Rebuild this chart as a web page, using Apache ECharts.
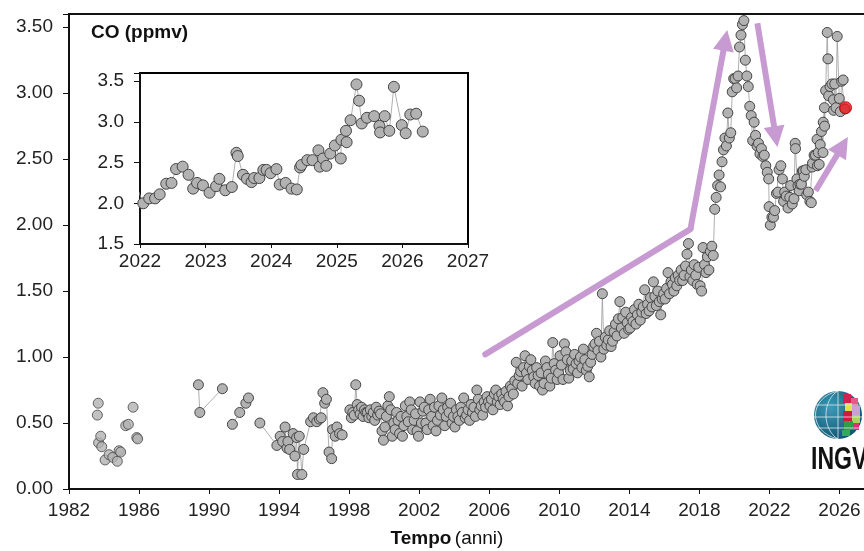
<!DOCTYPE html>
<html><head><meta charset="utf-8">
<script src="https://cdn.jsdelivr.net/npm/echarts@6/dist/echarts.min.js"></script>
<style>html,body{margin:0;padding:0;background:#fff}#c{width:864px;height:551px}</style>
</head><body><div id="c"></div>
<script>
// ---------- tick labels ----------
const mainXTicks = [1982,1986,1990,1994,1998,2002,2006,2010,2014,2018,2022,2026];
const mainYTicks = [0,0.5,1,1.5,2,2.5,3,3.5];
const insetXTicks = [2022,2023,2024,2025,2026,2027];
const insetYTicks = [1.5,2,2.5,3,3.5];

// ---------- data (year, CO ppmv) ----------
const early1983 = [[1983.62,0.56],[1983.67,0.65],[1983.69,0.35],[1983.81,0.40],[1983.87,0.32],[1984.06,0.22],[1984.29,0.26],[1984.50,0.24],[1984.76,0.21],[1984.86,0.29],[1984.95,0.28],[1985.24,0.48],[1985.39,0.49],[1985.66,0.62],[1985.87,0.39],[1985.92,0.38]];
const early1989 = [[1989.39,0.79],[1989.47,0.58],[1990.76,0.76]];
const early1991 = [[1991.33,0.49],[1991.75,0.58],[1992.10,0.65],[1992.25,0.69]];
const early1993 = [[1992.90,0.50],[1993.87,0.33],[1994.06,0.40],[1994.20,0.36],[1994.34,0.47],[1994.45,0.31],[1994.50,0.36],[1994.60,0.30],[1994.80,0.42],[1994.90,0.25],[1995.00,0.39],[1995.05,0.11],[1995.15,0.40],[1995.30,0.11],[1995.40,0.30],[1995.80,0.51],[1995.96,0.54],[1996.15,0.51],[1996.30,0.53],[1996.40,0.54],[1996.50,0.73],[1996.60,0.65],[1996.70,0.68],[1996.85,0.28],[1997.00,0.23],[1997.05,0.45],[1997.20,0.40],[1997.30,0.47],[1997.45,0.42],[1997.60,0.41]];

// monthly values, one row per year starting 1998
const monthlyStartYear = 1998;
const monthly = [
  [0.60,0.54,0.58,0.56,0.79,0.64,0.60,0.57,0.62,0.55,0.60,0.58], //1998
  [0.58,0.54,0.60,0.55,0.58,0.52,0.62,0.56,0.59,0.57,0.44,0.37], //1999
  [0.47,0.55,0.63,0.70,0.60,0.40,0.50,0.45,0.58,0.52,0.42,0.55], //2000
  [0.40,0.48,0.63,0.55,0.51,0.66,0.60,0.45,0.52,0.57,0.44,0.40], //2001
  [0.66,0.50,0.59,0.62,0.50,0.45,0.60,0.68,0.55,0.48,0.62,0.44], //2002
  [0.52,0.63,0.56,0.69,0.60,0.48,0.55,0.62,0.58,0.65,0.50,0.55], //2003
  [0.47,0.60,0.55,0.52,0.62,0.58,0.69,0.54,0.56,0.60,0.52,0.64], //2004
  [0.58,0.62,0.55,0.75,0.68,0.60,0.63,0.56,0.66,0.62,0.70,0.66], //2005
  [0.63,0.68,0.60,0.72,0.75,0.66,0.70,0.64,0.72,0.68,0.66,0.74], //2006
  [0.63,0.70,0.78,0.76,0.72,0.82,0.96,0.80,0.86,0.89,0.78,0.92], //2007
  [1.01,0.88,0.83,0.93,0.98,0.90,0.85,0.80,0.92,0.86,0.78,0.88], //2008
  [0.75,0.80,0.97,0.92,0.87,0.78,0.84,1.11,0.95,0.90,0.83,0.88], //2009
  [1.01,0.94,0.83,1.10,1.04,0.98,0.84,0.90,0.97,0.91,1.02,0.95], //2010
  [0.88,0.97,1.00,0.92,1.06,0.98,0.90,0.93,0.85,0.96,1.02,1.08], //2011
  [1.10,1.18,1.05,1.12,1.00,1.48,1.06,1.15,1.09,1.13,1.20,1.08], //2012
  [1.12,1.19,1.25,1.16,1.29,1.42,1.22,1.30,1.18,1.34,1.26,1.21], //2013
  [1.22,1.30,1.27,1.36,1.25,1.32,1.40,1.28,1.34,1.38,1.51,1.33], //2014
  [1.40,1.35,1.45,1.38,1.57,1.46,1.39,1.50,1.42,1.32,1.44,1.48], //2015
  [1.44,1.52,1.64,1.48,1.57,1.55,1.50,1.60,1.54,1.62,1.58,1.66], //2016
  [1.58,1.62,1.69,1.78,1.86,1.61,1.66,1.58,1.70,1.62,1.55,1.68], //2017
  [1.54,1.50,1.83,1.70,1.64,1.76,1.66,1.80,1.84,1.77,2.12,2.21], //2018
  [2.30,2.38,2.29,2.48,2.57,2.66,2.60,2.85,2.66,2.70,3.01,3.11], //2019
  [3.11,3.04,3.13,3.35,3.44,3.52,3.55,3.25,3.13,3.05,2.90,2.83], //2020
  [2.64,2.78,2.68,2.60,2.62,2.54,2.58,2.52,2.53,2.45,2.40,2.35]  //2021
];

const recent = [[2021.98,2.14],[2022.05,2.00],[2022.14,2.06],[2022.23,2.06],[2022.30,2.11],[2022.40,2.24],[2022.48,2.25],[2022.55,2.42],[2022.65,2.45],[2022.74,2.35],[2022.81,2.18],[2022.87,2.25],[2022.96,2.22],[2023.06,2.13],[2023.16,2.21],[2023.21,2.30],[2023.30,2.16],[2023.40,2.20],[2023.47,2.62],[2023.49,2.58],[2023.57,2.35],[2023.63,2.30],[2023.70,2.26],[2023.74,2.31],[2023.82,2.31],[2023.88,2.41],[2023.93,2.41],[2023.99,2.37],[2024.08,2.42],[2024.13,2.23],[2024.22,2.25],[2024.31,2.18],[2024.39,2.17],[2024.44,2.44],[2024.46,2.47],[2024.55,2.53],[2024.63,2.53],[2024.72,2.65],[2024.74,2.45],[2024.79,2.55],[2024.84,2.46],[2024.90,2.61],[2024.97,2.71],[2025.06,2.55],[2025.07,2.78],[2025.14,2.89],[2025.15,2.75],[2025.21,3.02],[2025.30,3.46],[2025.34,3.26],[2025.38,2.98],[2025.46,3.05],[2025.57,3.07],[2025.65,2.95],[2025.66,2.87],[2025.73,3.07],[2025.80,2.89],[2025.87,3.43],[2025.99,2.96],[2026.05,2.86],[2026.12,3.09],[2026.21,3.10],[2026.31,2.88]];

const latest = [[2026.35,2.89]];

// annotation arrows (data coordinates)
const arrowUpShaft = [[2005.77,1.02],[2017.49,1.97]];
const arrowUpHead = [[2017.49,1.97],[2019.48,3.40]];
const arrowDown = [[2021.31,3.53],[2022.36,2.67]];
const arrowRise = [[2024.63,2.26],[2026.17,2.60]];

// ---------- build ----------
const mainSeriesData = [];
monthly.forEach((row, i) => row.forEach((v, m) => mainSeriesData.push([monthlyStartYear + i + (m + 0.5) / 12, v])));
recent.forEach(p => mainSeriesData.push(p));

const FONT = 'Arial, "Liberation Sans", sans-serif';
const ptStyle = {color:'#b2b2b2', borderColor:'#454545', borderWidth:1};
const lnStyle = {color:'#9a9a9a', width:0.8};
const PURPLE = '#c79ad2';

function lineSeries(data, xi, yi, size) {
  return {type:'line', data, xAxisIndex:xi, yAxisIndex:yi, symbol:'circle', symbolSize:size || 10, showSymbol:true,
    itemStyle:ptStyle, lineStyle:lnStyle, z:3, clip:true, emphasis:{disabled:true}};
}
function fmtIn(list, dec) { return v => list.some(t => Math.abs(t - v) < 1e-9) ? (dec >= 0 ? v.toFixed(dec) : String(v)) : ''; }

const chart = echarts.init(document.getElementById('c'), null, {renderer:'canvas'});
chart.setOption({
  animation:false,
  backgroundColor:'#fff',
  grid:[
    {left:69, top:14, right:0, bottom:62},
    {left:140, top:73, width:328, height:171, show:true, backgroundColor:'#fff', borderColor:'#000', borderWidth:2}
  ],
  xAxis:[
    {gridIndex:0, type:'value', min:1982, max:2027.4, interval:4,
     axisLine:{show:true, onZero:false, lineStyle:{color:'#111', width:2}},
     axisTick:{show:true, length:5, lineStyle:{color:'#111', width:1}},
     axisLabel:{fontSize:19, color:'#222', fontFamily:FONT, margin:12, formatter:fmtIn(mainXTicks,-1), showMaxLabel:false},
     splitLine:{show:false}},
    {gridIndex:0, type:'value', position:'top', min:1982, max:2027.4, interval:4,
     axisLine:{show:true, onZero:false, lineStyle:{color:'#111', width:2}},
     axisTick:{show:false}, axisLabel:{show:false}, splitLine:{show:false}},
    {gridIndex:1, type:'value', min:2022, max:2027, interval:1,
     axisLine:{show:true, onZero:false, lineStyle:{color:'#111', width:2}},
     axisTick:{show:true, length:4, lineStyle:{color:'#111'}},
     axisLabel:{fontSize:19, color:'#222', fontFamily:FONT, margin:8, formatter:fmtIn(insetXTicks,-1)},
     splitLine:{show:false}}
  ],
  yAxis:[
    {gridIndex:0, type:'value', min:0, max:3.6, interval:0.5,
     axisLine:{show:true, onZero:false, lineStyle:{color:'#111', width:2}},
     axisTick:{show:true, length:6, lineStyle:{color:'#111'}},
     axisLabel:{fontSize:19, color:'#222', fontFamily:FONT, margin:16, formatter:fmtIn(mainYTicks,2)},
     splitLine:{show:false}},
    {gridIndex:1, type:'value', min:1.5, max:3.6, interval:0.5,
     axisLine:{show:true, onZero:false, lineStyle:{color:'#111', width:2}},
     axisTick:{show:true, length:6, lineStyle:{color:'#111'}},
     axisLabel:{fontSize:19, color:'#222', fontFamily:FONT, margin:16, formatter:fmtIn(insetYTicks,1)},
     splitLine:{show:false}}
  ],
  series:[
    {type:'scatter', data:early1983, xAxisIndex:0, yAxisIndex:0, symbolSize:10, itemStyle:ptStyle, z:3},
    lineSeries(early1989,0,0),
    lineSeries(early1991,0,0),
    lineSeries(early1993,0,0),
    lineSeries(mainSeriesData,0,0),
    {type:'scatter', data:latest, xAxisIndex:0, yAxisIndex:0, symbolSize:12,
     itemStyle:{color:'#e8141b', borderColor:'#c00000', borderWidth:1}, z:6},
    Object.assign(lineSeries(recent,2,1,11), {z:12}),
    {type:'lines', coordinateSystem:'cartesian2d', xAxisIndex:0, yAxisIndex:0, z:5,
     symbol:['none','none'], lineStyle:{color:PURPLE, width:6, opacity:1, cap:'round'},
     data:[{coords:arrowUpShaft}]},
    {type:'lines', coordinateSystem:'cartesian2d', xAxisIndex:0, yAxisIndex:0, z:5,
     symbol:['none','triangle'], symbolSize:[16,21],
     lineStyle:{color:PURPLE, width:6, opacity:1},
     data:[{coords:arrowUpHead},{coords:arrowDown},{coords:arrowRise}]}
  ],
  graphic:[
    {type:'text', x:91, y:33, z:20, style:{text:'CO (ppmv)', font:'bold 19px '+FONT, fill:'#111', textVerticalAlign:'middle'}},
    {type:'text', x:447, y:539, z:20, style:{text:'{b|Tempo} {n|(anni)}', textAlign:'center', textVerticalAlign:'middle',
      rich:{b:{fontWeight:'bold', fontSize:19, fontFamily:FONT, fill:'#111'}, n:{fontSize:19, fontFamily:FONT, fill:'#111'}}}},
    // INGV logo
    {type:'group', z:20, children:[
      {type:'circle', shape:{cx:838, cy:415, r:24}, style:{fill:{type:'radial', x:0.35, y:0.35, r:0.8, colorStops:[{offset:0,color:'#3a9bb8'},{offset:1,color:'#0b4a66'}]}}},
      {type:'rect', shape:{x:843, y:394, width:8, height:9}, style:{fill:'#d81e4c'}},
      {type:'rect', shape:{x:851, y:398, width:7, height:8}, style:{fill:'#e45b86'}},
      {type:'rect', shape:{x:845, y:403, width:7, height:8}, style:{fill:'#e3e14a'}},
      {type:'rect', shape:{x:852, y:406, width:8, height:9}, style:{fill:'#c9a0d8'}},
      {type:'rect', shape:{x:843, y:411, width:9, height:10}, style:{fill:'#d5183e'}},
      {type:'rect', shape:{x:852, y:415, width:8, height:8}, style:{fill:'#a9d65a'}},
      {type:'rect', shape:{x:844, y:421, width:9, height:9}, style:{fill:'#2f9d4c'}},
      {type:'rect', shape:{x:853, y:423, width:6, height:7}, style:{fill:'#d9307a'}},
      {type:'rect', shape:{x:842, y:430, width:8, height:6}, style:{fill:'#35a860'}},
      {type:'line', shape:{x1:815, y1:405, x2:861, y2:405}, style:{stroke:'#dfe8ee', lineWidth:0.8}},
      {type:'line', shape:{x1:814, y1:417, x2:862, y2:417}, style:{stroke:'#dfe8ee', lineWidth:0.8}},
      {type:'line', shape:{x1:817, y1:428, x2:859, y2:428}, style:{stroke:'#dfe8ee', lineWidth:0.8}},
      {type:'bezierCurve', shape:{x1:838, y1:391, x2:838, y2:439, cpx1:822, cpy1:400, cpx2:822, cpy2:430}, style:{stroke:'#dfe8ee', lineWidth:0.8, fill:null}},
      {type:'bezierCurve', shape:{x1:838, y1:391, x2:838, y2:439, cpx1:808, cpy1:398, cpx2:808, cpy2:432}, style:{stroke:'#dfe8ee', lineWidth:0.8, fill:null}},
      {type:'line', shape:{x1:838, y1:391, x2:838, y2:439}, style:{stroke:'#dfe8ee', lineWidth:0.8}},
      {type:'text', x:811, y:476, scaleX:0.72, style:{text:'INGV', font:'bold 32px '+FONT, fill:'#111', textVerticalAlign:'bottom'}}
    ]}
  ]
});
</script>
</body></html>
